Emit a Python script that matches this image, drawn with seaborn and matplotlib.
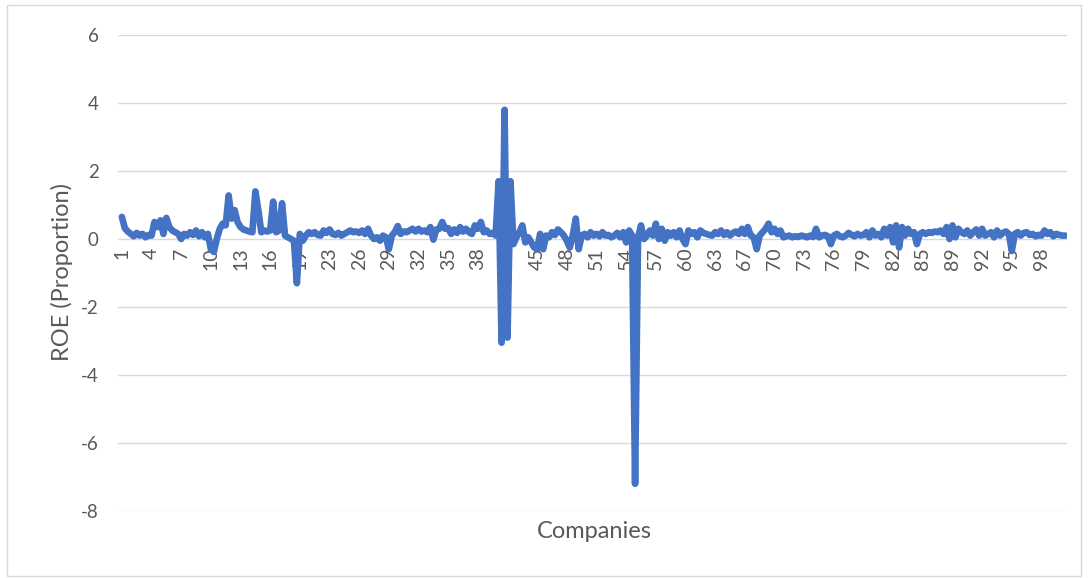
import numpy as np
import pandas as pd
import matplotlib
matplotlib.use("Agg")
import matplotlib.pyplot as plt
import seaborn as sns
from matplotlib.patches import Rectangle

# ROE observations in panel order (10 observations per labelled company step)
roe = [
    # 1 -> 4
    0.65, 0.32, 0.22, 0.15, 0.08, 0.18, 0.10, 0.15, 0.05, 0.12,
    # 4 -> 7
    0.10, 0.50, 0.35, 0.55, 0.15, 0.62, 0.35, 0.25, 0.20, 0.15,
    # 7 -> 10
    0.00, 0.15, 0.10, 0.20, 0.12, 0.25, 0.08, 0.20, 0.05, 0.15,
    # 10 -> 13
    -0.30, -0.38, 0.00, 0.30, 0.45, 0.40, 1.28, 0.60, 0.85, 0.50,
    # 13 -> 16
    0.35, 0.28, 0.25, 0.22, 0.20, 1.40, 0.85, 0.20, 0.25, 0.22,
    # 16 -> 19
    0.25, 1.10, 0.20, 0.25, 1.05, 0.10, 0.05, 0.00, -0.05, -1.30,
    # 19 -> 23
    0.15, -0.05, 0.10, 0.20, 0.15, 0.20, 0.12, 0.10, 0.25, 0.18,
    # 23 -> 26
    0.28, 0.15, 0.12, 0.18, 0.10, 0.15, 0.20, 0.25, 0.20, 0.22,
    # 26 -> 29
    0.18, 0.25, 0.15, 0.30, 0.10, 0.00, 0.05, -0.05, 0.10, 0.05,
    # 29 -> 32
    -0.30, 0.10, 0.20, 0.38, 0.15, 0.22, 0.20, 0.25, 0.30, 0.22,
    # 32 -> 35
    0.30, 0.22, 0.25, 0.20, 0.35, -0.02, 0.28, 0.30, 0.50, 0.30,
    # 35 -> 38
    0.32, 0.15, 0.28, 0.18, 0.35, 0.22, 0.30, 0.20, 0.15, 0.40,
    # 38 -> 41
    0.30, 0.50, 0.20, 0.25, 0.15, 0.18, 0.10, 1.70, -3.05, 3.80,
    # 41 -> 45
    -2.90, 1.70, -0.15, 0.05, 0.20, 0.40, -0.10, 0.05, -0.10, -0.25,
    # 45 -> 48
    -0.30, 0.15, -0.30, 0.10, 0.05, 0.20, 0.12, 0.28, 0.20, 0.10,
    # 48 -> 51
    -0.05, -0.25, 0.10, 0.60, -0.30, 0.10, 0.15, 0.05, 0.20, 0.10,
    # 51 -> 54
    0.15, 0.08, 0.20, 0.10, 0.12, 0.05, 0.10, 0.18, 0.05, 0.20,
    # 54 -> 57
    -0.10, 0.25, 0.10, -7.20, 0.05, 0.40, 0.00, 0.10, 0.25, 0.10,
    # 57 -> 60
    0.45, 0.00, 0.30, -0.05, 0.20, 0.10, 0.20, 0.05, 0.25, 0.00,
    # 60 -> 63
    -0.15, 0.25, 0.15, 0.20, 0.05, 0.25, 0.18, 0.15, 0.12, 0.10,
    # 63 -> 67
    0.20, 0.15, 0.25, 0.12, 0.20, 0.10, 0.18, 0.22, 0.15, 0.30,
    # 67 -> 70
    0.15, 0.35, 0.10, 0.05, -0.30, 0.10, 0.20, 0.30, 0.45, 0.20,
    # 70 -> 73
    0.30, 0.15, 0.25, 0.05, 0.08, 0.10, 0.05, 0.08, 0.06, 0.10,
    # 73 -> 76
    0.08, 0.05, 0.10, 0.06, 0.30, 0.05, 0.10, 0.12, 0.08, -0.15,
    # 76 -> 79
    0.10, 0.15, 0.08, 0.05, 0.10, 0.18, 0.12, 0.08, 0.15, 0.10,
    # 79 -> 82
    0.12, 0.20, 0.05, 0.25, 0.10, 0.15, 0.05, 0.30, 0.10, 0.35,
    # 82 -> 85
    -0.10, 0.40, -0.25, 0.35, 0.10, 0.30, 0.15, 0.20, -0.15, 0.15,
    # 85 -> 89
    0.20, 0.15, 0.20, 0.18, 0.22, 0.20, 0.25, 0.15, 0.35, 0.00,
    # 89 -> 92
    0.40, 0.05, 0.30, 0.20, 0.15, 0.25, 0.10, 0.20, 0.28, 0.10,
    # 92 -> 95
    0.30, 0.10, 0.15, 0.20, 0.05, 0.25, 0.10, 0.18, 0.22, 0.15,
    # 95 -> 98
    -0.35, 0.15, 0.20, 0.10, 0.18, 0.20, 0.12, 0.15, 0.08, 0.12,
    # 98 -> end
    0.10, 0.25, 0.15, 0.20, 0.08, 0.15, 0.12, 0.10, 0.10,
]

# Company number shown at every 10th observation
company_ticks = [1, 4, 7, 10, 13, 16, 19, 23, 26, 29, 32, 35, 38, 41, 45, 48,
                 51, 54, 57, 60, 63, 67, 70, 73, 76, 79, 82, 85, 89, 92, 95, 98]
y_ticks = [-8, -6, -4, -2, 0, 2, 4, 6]

df = pd.DataFrame({"obs": np.arange(len(roe)), "roe": roe})

sns.set_theme(style="white")
plt.rcParams["font.family"] = ["Lato", "DejaVu Sans"]

W, H = 1088, 578
fig = plt.figure(figsize=(W / 100, H / 100), dpi=100)
fig.patch.set_facecolor("white")

# chart-area border
fig.patches.append(Rectangle((7 / W, 1 - 576 / H), (1081 - 7) / W, (576 - 5) / H,
                             transform=fig.transFigure, fill=False,
                             edgecolor="#d9d9d9", linewidth=1.0))

ax = fig.add_axes([118 / W, 1 - 511 / H, (1067 - 118) / W, (511 - 35) / H])

for v in y_ticks:
    ax.axhline(v, color="#d9d9d9", linewidth=1.0, zorder=0)

sns.lineplot(data=df, x="obs", y="roe", ax=ax, color="#4472C4",
             linewidth=4.8, solid_joinstyle="round", solid_capstyle="round",
             zorder=3)

ax.set_ylim(-8, 6)
ax.set_xlim(-1.3, 318.6)
ax.set_yticks(y_ticks)
ax.set_yticklabels([str(v) for v in y_ticks])

tick_pos = [10 * i for i in range(len(company_ticks))]
ax.set_xticks(tick_pos)
ax.set_xticklabels([str(c) for c in company_ticks])

# category axis sits on the zero line
ax.spines["bottom"].set_position(("data", 0))
for s in ax.spines.values():
    s.set_visible(False)

ax.tick_params(axis="x", length=0, pad=6, labelsize=14, labelcolor="#595959",
               labelrotation=90)
ax.tick_params(axis="y", length=0, pad=14, labelsize=13.5, labelcolor="#595959")
for lab in ax.get_xticklabels():
    lab.set_verticalalignment("top")
    lab.set_horizontalalignment("center")

ax.set_xlabel("")
ax.set_ylabel("")
ax.set_facecolor("none")

fig.text(62 / W, 1 - 272 / H, "ROE (Proportion)", rotation=90, ha="center",
         va="center", fontsize=17, color="#595959")
fig.text(594 / W, 1 - 532 / H, "Companies", ha="center", va="center",
         fontsize=17, color="#595959")

fig.savefig("out.png", dpi=100)
